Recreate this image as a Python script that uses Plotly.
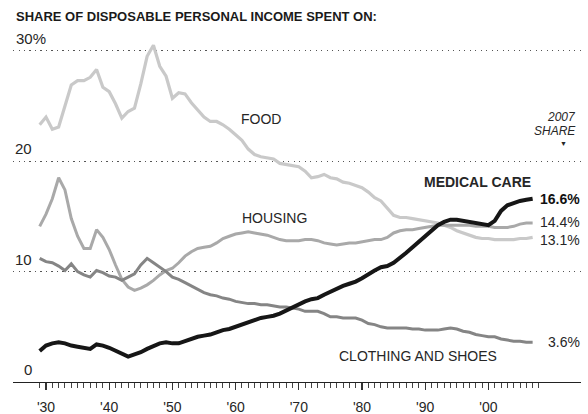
import plotly.graph_objects as go

# ---------------- data ----------------
years = list(range(1929, 2008))

food = [23.3, 24.0, 22.9, 23.1, 25.0, 26.9, 27.3, 27.3, 27.6, 28.3,
        26.7, 26.3, 25.2, 23.9, 24.5, 24.8, 27.0, 29.5, 30.5, 28.6,
        27.7, 25.7, 26.2, 26.1, 25.3, 24.6, 24.0, 23.6, 23.6, 23.3,
        22.9, 22.4, 21.9, 21.1, 20.6, 20.4, 20.3, 20.2, 19.8, 19.7,
        19.6, 19.5, 19.1, 18.5, 18.6, 18.8, 18.5, 18.4, 18.1, 18.0,
        17.8, 17.6, 17.2, 16.7, 16.4, 15.8, 15.1, 14.9, 14.9, 14.8,
        14.7, 14.6, 14.5, 14.4, 14.2, 14.0, 13.7, 13.5, 13.3, 13.1,
        13.0, 13.0, 12.9, 12.9, 12.9, 12.9, 13.0, 13.0, 13.1]

housing = [14.1, 15.2, 16.6, 18.5, 17.4, 14.8, 13.2, 12.1, 12.1, 13.8,
           13.1, 12.0, 10.6, 9.3, 8.6, 8.3, 8.5, 8.8, 9.2, 9.7,
           10.1, 10.3, 10.8, 11.4, 11.8, 12.1, 12.2, 12.3, 12.6, 13.0,
           13.2, 13.4, 13.5, 13.6, 13.5, 13.4, 13.3, 13.1, 12.9, 12.8,
           12.8, 12.8, 12.9, 12.9, 12.8, 12.6, 12.5, 12.4, 12.5, 12.6,
           12.6, 12.7, 12.8, 12.9, 12.9, 13.1, 13.5, 13.7, 13.8, 13.8,
           13.9, 14.0, 14.1, 14.2, 14.2, 14.2, 14.2, 14.2, 14.2, 14.1,
           14.1, 14.1, 14.0, 14.0, 14.0, 14.1, 14.3, 14.4, 14.4]

medical = [2.8, 3.3, 3.5, 3.6, 3.5, 3.3, 3.2, 3.1, 3.0, 3.4,
           3.3, 3.1, 2.8, 2.5, 2.3, 2.5, 2.7, 3.0, 3.3, 3.5,
           3.6, 3.5, 3.5, 3.7, 3.9, 4.1, 4.2, 4.3, 4.5, 4.7,
           4.8, 5.0, 5.2, 5.4, 5.6, 5.8, 5.9, 6.0, 6.2, 6.5,
           6.8, 7.1, 7.3, 7.5, 7.6, 7.9, 8.2, 8.5, 8.7, 8.9,
           9.1, 9.4, 9.8, 10.1, 10.4, 10.5, 10.8, 11.2, 11.7, 12.2,
           12.7, 13.3, 13.8, 14.2, 14.5, 14.7, 14.7, 14.6, 14.5, 14.4,
           14.3, 14.2, 14.6, 15.5, 16.0, 16.2, 16.4, 16.5, 16.6]

clothing = [11.2, 10.9, 10.8, 10.5, 10.1, 10.7, 10.0, 9.7, 9.5, 10.1,
            9.9, 9.6, 9.5, 9.2, 9.5, 9.8, 10.6, 11.2, 10.8, 10.4,
            10.0, 9.5, 9.3, 9.0, 8.7, 8.4, 8.1, 7.9, 7.8, 7.6,
            7.5, 7.3, 7.2, 7.1, 7.1, 7.0, 7.0, 6.9, 6.8, 6.8,
            6.7, 6.6, 6.4, 6.4, 6.4, 6.2, 5.9, 5.9, 5.8, 5.8,
            5.8, 5.6, 5.3, 5.2, 5.0, 4.9, 4.9, 4.9, 4.9, 4.8,
            4.8, 4.7, 4.7, 4.7, 4.8, 4.9, 4.8, 4.6, 4.5, 4.3,
            4.2, 4.1, 4.1, 3.9, 3.8, 3.7, 3.7, 3.6, 3.6]

series_names = ["FOOD", "HOUSING", "CLOTHING AND SHOES", "MEDICAL CARE"]
decade_ticks = [1930, 1940, 1950, 1960, 1970, 1980, 1990, 2000]
decade_labels = ["'30", "'40", "'50", "'60", "'70", "'80", "'90", "'00"]
year_ticks = list(range(1929, 2009))
grid_values = [10, 20, 30]
grid_labels = ["10", "20", "30%"]
title_text = "SHARE OF DISPOSABLE PERSONAL INCOME SPENT ON:"

# ---------------- layout geometry ----------------
W, H = 588, 414
L, R, T, B = 13, 7, 40, 32
PW, PH = W - L - R, H - T - B
FONT = "Liberation Sans, Arial, Helvetica, sans-serif"
TXT = "#262626"


def px_x(x):
    return (x - L) / PW


def px_y(y):
    return (H - B - y) / PH


styles = {
    "FOOD": dict(color="#c9c9c9", width=3.2),
    "HOUSING": dict(color="#a9a9a9", width=3.0),
    "CLOTHING AND SHOES": dict(color="#858585", width=3.0),
    "MEDICAL CARE": dict(color="#161616", width=4.0),
}
values = {"FOOD": food, "HOUSING": housing,
          "CLOTHING AND SHOES": clothing, "MEDICAL CARE": medical}

fig = go.Figure()
for name in series_names:
    fig.add_trace(go.Scatter(x=years, y=values[name], mode="lines",
                             line=dict(color=styles[name]["color"],
                                       width=styles[name]["width"]),
                             name=name, showlegend=False, hoverinfo="skip"))

annotations = []
# title
annotations.append(dict(text=title_text, xref="paper", yref="paper",
                        x=px_x(14), y=px_y(16), xanchor="left", yanchor="middle",
                        showarrow=False,
                        font=dict(family=FONT, size=13, color="#1a1a1a", weight="bold")))
# y-axis labels above the gridlines
for v, t in zip([0] + grid_values, ["0"] + grid_labels):
    if t.endswith("%"):
        annotations.append(dict(text=t, xref="paper", yref="y", x=px_x(14), y=v,
                                xanchor="left", yanchor="bottom", yshift=2,
                                showarrow=False, font=dict(family=FONT, size=15, color=TXT)))
    else:
        annotations.append(dict(text=t, xref="paper", yref="y", x=px_x(34), y=v,
                                xanchor="right", yanchor="bottom", yshift=2,
                                showarrow=False, font=dict(family=FONT, size=15, color=TXT)))

# series labels
label_pos = {
    "FOOD": (261, 119, False),
    "HOUSING": (274, 218, False),
    "CLOTHING AND SHOES": (418, 356, False),
    "MEDICAL CARE": (477, 182, True),
}
for name in series_names:
    x, y, bold = label_pos[name]
    annotations.append(dict(text=name, xref="paper", yref="paper", x=px_x(x), y=px_y(y),
                            xanchor="center", yanchor="middle", showarrow=False,
                            font=dict(family=FONT, size=14, color=TXT,
                                      weight="bold" if bold else "normal")))

# end values
end_shift = {"FOOD": -3, "HOUSING": 1, "CLOTHING AND SHOES": 0, "MEDICAL CARE": 0}
for name in series_names:
    v = values[name][-1]
    annotations.append(dict(text=f"{v:.1f}%", xref="paper", yref="y", x=px_x(582), y=v,
                            xanchor="right", yanchor="middle", yshift=end_shift[name],
                            showarrow=False,
                            font=dict(family=FONT, size=14, color=TXT if name != "MEDICAL CARE" else "#111",
                                      weight="bold" if name == "MEDICAL CARE" else "normal")))

# "2007 SHARE" note
annotations.append(dict(text=f"<i>{years[-1]}</i>", xref="paper", yref="paper", x=px_x(578), y=px_y(117),
                        xanchor="right", yanchor="middle", showarrow=False,
                        font=dict(family=FONT, size=12, color=TXT)))
annotations.append(dict(text="<i>SHARE</i>", xref="paper", yref="paper", x=px_x(578), y=px_y(131),
                        xanchor="right", yanchor="middle", showarrow=False,
                        font=dict(family=FONT, size=12, color=TXT)))
annotations.append(dict(text="▼", xref="paper", yref="paper", x=px_x(563), y=px_y(143),
                        xanchor="center", yanchor="middle", showarrow=False,
                        font=dict(family=FONT, size=7, color=TXT)))

x0 = 1930 - (46 - L) / 6.32
x1 = x0 + PW / 6.32
ytop = PH / 11.04

fig.update_layout(
    width=W, height=H,
    margin=dict(l=L, r=R, t=T, b=B, pad=0, autoexpand=False),
    paper_bgcolor="white", plot_bgcolor="white",
    showlegend=False,
    annotations=annotations,
    xaxis=dict(range=[x0, x1], showgrid=False, zeroline=False, automargin=False,
               showline=True, linecolor="#222", linewidth=1.3,
               tickmode="array", tickvals=decade_ticks, ticktext=decade_labels,
               ticks="outside", ticklen=7, tickwidth=1.2, tickcolor="#333",
               tickfont=dict(family=FONT, size=14, color=TXT),
               ticklabelstandoff=5,
               minor=dict(tickmode="array",
                          tickvals=[y for y in year_ticks if y % 10 != 0],
                          ticks="outside", ticklen=4.5, tickwidth=1, tickcolor="#444"),
               fixedrange=True),
    yaxis=dict(range=[0, ytop], showgrid=True, gridcolor="#555", gridwidth=1.3,
               griddash="1.3px,4.2px", zeroline=False, showline=False, automargin=False,
               tickmode="array", tickvals=grid_values, showticklabels=False,
               ticks="", fixedrange=True),
)

fig.write_html(
    "out.html",
    config={"displayModeBar": False, "staticPlot": True},
    post_script="document.body.style.margin='0';document.body.style.overflow='hidden';",
)
